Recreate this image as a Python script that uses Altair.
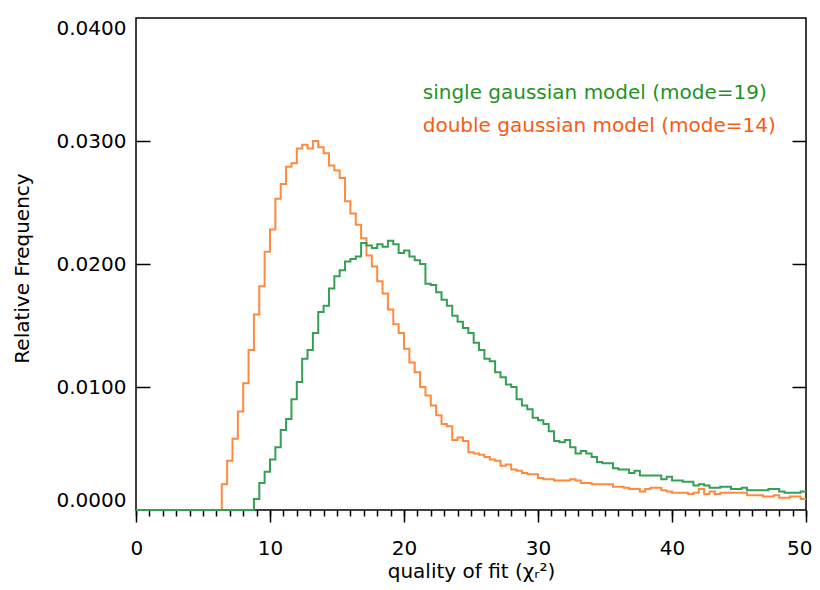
import altair as alt
import numpy as np
import pandas as pd

BIN_WIDTH = 0.4

# relative frequency per bin of width 0.4, from chi2 = 0 to 50 (125 bins)
single_freq = [0.0] * 22 + [
    0.0009, 0.0022, 0.0031, 0.0041, 0.0051, 0.0065, 0.0074, 0.0090, 0.0104, 0.0123,
    0.0130, 0.0144, 0.0161, 0.0166,
    0.0180, 0.0190, 0.0195, 0.0202, 0.0204, 0.0206, 0.0217, 0.0215, 0.0213, 0.0216,
    0.0214, 0.0219, 0.0216, 0.0209, 0.0211, 0.0206, 0.0203, 0.0200, 0.0184, 0.0183,
    0.0177, 0.0171,
    0.0166, 0.0158, 0.0153, 0.0148, 0.0144, 0.0136, 0.0130, 0.0123, 0.0121, 0.0112,
    0.0108, 0.0102, 0.0100, 0.0090, 0.0085, 0.0082, 0.0075, 0.0073, 0.0070, 0.0064,
    0.0056, 0.0055, 0.0057, 0.0051, 0.0046, 0.0048, 0.0046, 0.0043, 0.0039, 0.0038,
    0.0038, 0.0034, 0.0033, 0.0033, 0.0030, 0.0032, 0.0028, 0.0028, 0.0028, 0.0028,
    0.0025, 0.0027, 0.0024, 0.0024, 0.0023, 0.0023, 0.0020, 0.0021, 0.0020, 0.0018,
    0.0018, 0.0019, 0.0019, 0.0017, 0.0017, 0.0018, 0.0016, 0.0016, 0.0016, 0.0016,
    0.0017, 0.0017, 0.0015, 0.0014, 0.0014, 0.0014, 0.0015,
]

double_freq = [0.0] * 16 + [
    0.0021, 0.0040, 0.0058, 0.0080, 0.0103, 0.0130, 0.0159, 0.0182, 0.0210, 0.0228,
    0.0253, 0.0265, 0.0279, 0.0282, 0.0294, 0.0297, 0.0294, 0.0300, 0.0295, 0.0290,
    0.0280, 0.0276, 0.0270, 0.0251, 0.0241, 0.0232, 0.0221, 0.0207, 0.0198, 0.0186,
    0.0176, 0.0163, 0.0151, 0.0144, 0.0131, 0.0120, 0.0112, 0.0100, 0.0093, 0.0085,
    0.0077, 0.0070, 0.0068, 0.0057, 0.0059, 0.0056, 0.0047, 0.0046, 0.0045, 0.0043,
    0.0041, 0.0040,
    0.0036, 0.0037, 0.0033, 0.0032, 0.0030, 0.0029, 0.0029, 0.0026, 0.0025, 0.0025,
    0.0024, 0.0024, 0.0024, 0.0025, 0.0024, 0.0022, 0.0022, 0.0021, 0.0021, 0.0021,
    0.0021, 0.0019, 0.0019, 0.0018, 0.0017, 0.0017, 0.0015, 0.0017, 0.0018, 0.0018,
    0.0016, 0.0015, 0.0014, 0.0014, 0.0014, 0.0013, 0.0014, 0.0017, 0.0013, 0.0015,
    0.0013, 0.0014, 0.0014, 0.0014, 0.0014, 0.0014, 0.0012, 0.0012, 0.0012, 0.0011,
    0.0011, 0.0012, 0.0010, 0.0010, 0.0011, 0.0011, 0.0009,
]

legend_labels = ["single gaussian model (mode=19)", "double gaussian model (mode=14)"]
legend_colors = ["#1f931f", "#f65c12"]
legend_x = [21.4, 21.4]
legend_y = [0.0339, 0.0312]

x_major_ticks = [0, 10, 20, 30, 40, 50]
x_minor_ticks = list(range(0, 51))
y_ticks = [0.0, 0.01, 0.02, 0.03, 0.04]
y_inner_ticks = [0.01, 0.02, 0.03]

FONT = "DejaVu Sans"
W, H = 670, 492


def step_frame(vals):
    edges = np.round(np.arange(len(vals) + 1) * BIN_WIDTH, 1)
    return pd.DataFrame({"chi2": edges, "freq": list(vals) + [vals[-1]]})


x_scale = alt.Scale(domain=[0, 50], nice=False, zero=False)
y_scale = alt.Scale(domain=[0, 0.04], nice=False)

x_major_axis = alt.Axis(
    orient="bottom", values=x_major_ticks, tickSize=12, tickWidth=1.5, tickColor="black",
    domain=False, grid=False, labelFont=FONT, labelFontSize=20, labelColor="black",
    labelPadding=16, labelFlush=True, labelFlushOffset=6, labelOverlap=False,
    title="quality of fit (χᵣ²)", titleFont=FONT, titleFontSize=20,
    titleFontWeight="normal", titleColor="black", titleX=335, titleY=67,
    titleBaseline="alphabetic", titleAlign="center",
)
x_minor_axis = alt.Axis(
    orient="bottom", values=x_minor_ticks, tickSize=6, tickWidth=1.5, tickColor="black",
    domain=False, grid=False, labels=False, title=None,
)
y_left_axis = alt.Axis(
    orient="left", values=y_ticks, format=".4f", ticks=False, tickSize=0, domain=False,
    grid=False, labelFont=FONT, labelFontSize=20, labelColor="black", labelPadding=10,
    labelFlush=True, title="Relative Frequency", titleFont=FONT, titleFontSize=20,
    titleFontWeight="normal", titleColor="black", titleX=-114, titleY=250,
    titleAlign="center", titleBaseline="middle",
)
y_inner_left_axis = alt.Axis(
    orient="right", offset=-W, values=y_inner_ticks, tickSize=14, tickWidth=1.5,
    tickColor="black", domain=False, grid=False, labels=False, title=None,
)
y_inner_right_axis = alt.Axis(
    orient="left", offset=-W, values=y_inner_ticks, tickSize=14, tickWidth=1.5,
    tickColor="black", domain=False, grid=False, labels=False, title=None,
)

orange = alt.Chart(step_frame(double_freq)).mark_line(
    interpolate="step-after", color="#ff8a3d", strokeWidth=2
).encode(
    x=alt.X("chi2:Q", scale=x_scale, axis=x_major_axis),
    y=alt.Y("freq:Q", scale=y_scale, axis=y_left_axis),
)

green = alt.Chart(step_frame(single_freq)).mark_line(
    interpolate="step-after", color="#35a055", strokeWidth=2
).encode(
    x=alt.X("chi2:Q", scale=x_scale, axis=x_minor_axis),
    y=alt.Y("freq:Q", scale=y_scale, axis=y_inner_left_axis),
)

legend_df = pd.DataFrame({"label": legend_labels, "color": legend_colors,
                          "x": legend_x, "y": legend_y})
legend = alt.Chart(legend_df).mark_text(
    align="left", baseline="middle", font=FONT, fontSize=20
).encode(
    x=alt.X("x:Q", scale=x_scale, axis=None),
    y=alt.Y("y:Q", scale=y_scale, axis=y_inner_right_axis),
    text="label:N",
    color=alt.Color("color:N", scale=None),
)

chart = alt.layer(orange, green, legend).resolve_axis(
    x="independent", y="independent"
).properties(
    width=W, height=H, autosize="none",
    padding={"left": 128, "top": 10, "right": 6, "bottom": 72},
).configure_view(stroke="black", strokeWidth=1.5)

chart.save("out.html", embed_options={"renderer": "svg", "actions": False})
